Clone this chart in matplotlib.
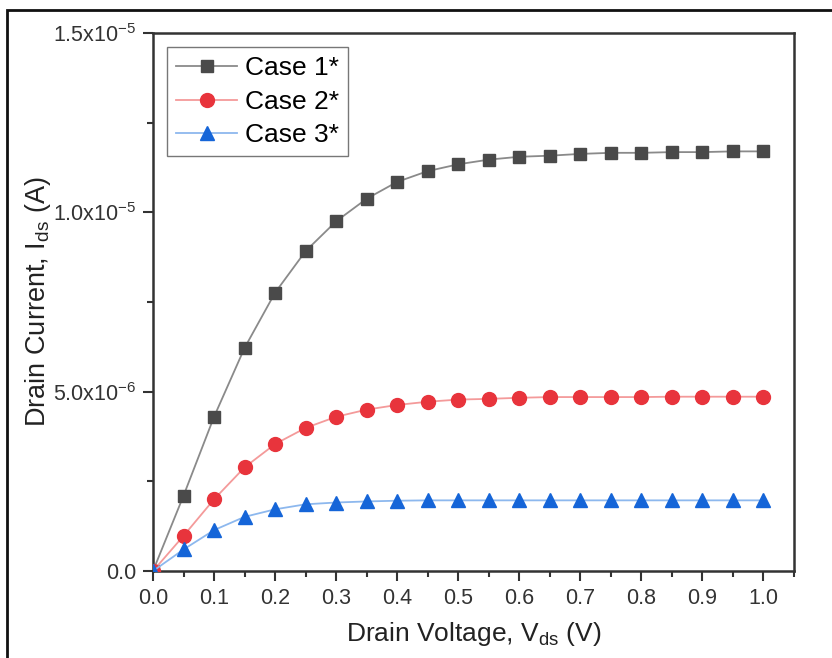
import numpy as np
import matplotlib
matplotlib.use("Agg")
import matplotlib.pyplot as plt
from matplotlib.ticker import MultipleLocator, FuncFormatter
from matplotlib.patches import Rectangle

plt.rcParams['font.family'] = ['Liberation Sans', 'DejaVu Sans']
plt.rcParams['mathtext.default'] = 'regular'

# Drain voltage (V)
vds = [0.0, 0.05, 0.1, 0.15, 0.2, 0.25, 0.3, 0.35, 0.4, 0.45, 0.5,
       0.55, 0.6, 0.65, 0.7, 0.75, 0.8, 0.85, 0.9, 0.95, 1.0]

# Drain current (A)
case1 = [0.0, 2.10e-6, 4.30e-6, 6.22e-6, 7.76e-6, 8.92e-6, 9.75e-6, 10.38e-6,
         10.85e-6, 11.15e-6, 11.34e-6, 11.47e-6, 11.55e-6, 11.58e-6, 11.63e-6,
         11.66e-6, 11.66e-6, 11.68e-6, 11.68e-6, 11.70e-6, 11.70e-6]
case2 = [0.0, 0.98e-6, 2.00e-6, 2.89e-6, 3.54e-6, 3.99e-6, 4.30e-6, 4.50e-6,
         4.63e-6, 4.72e-6, 4.78e-6, 4.80e-6, 4.83e-6, 4.85e-6, 4.85e-6,
         4.85e-6, 4.85e-6, 4.86e-6, 4.86e-6, 4.86e-6, 4.86e-6]
case3 = [0.0, 0.60e-6, 1.14e-6, 1.51e-6, 1.72e-6, 1.86e-6, 1.91e-6, 1.94e-6,
         1.96e-6, 1.97e-6, 1.97e-6, 1.97e-6, 1.97e-6, 1.97e-6, 1.97e-6,
         1.97e-6, 1.97e-6, 1.97e-6, 1.97e-6, 1.97e-6, 1.97e-6]

labels = ["Case 1*", "Case 2*", "Case 3*"]


def sci_label(v, pos):
    if v == 0:
        return "0.0"
    exp = int(np.floor(np.log10(abs(v))))
    mant = v / 10 ** exp
    return "%.1fx10$^{%d}$" % (mant, exp)


fig = plt.figure(figsize=(8.32, 6.58), dpi=100)
ax = fig.add_axes([0.1839, 0.1322, 0.7704, 0.8176])

# outer frame of the original screenshot
fig.add_artist(Rectangle((7 / 832, -0.1), 1.2, (658 - 10) / 658 + 0.1,
                         transform=fig.transFigure, fill=False,
                         edgecolor="#111111", linewidth=2))

# Plots
ax.plot(vds, case1, color="#8a8a8a", lw=1.3, marker="s", ms=9,
        mfc="#4a4a4a", mec="#4a4a4a", label=labels[0], zorder=3)
ax.plot(vds, case2, color="#f49a9a", lw=1.3, marker="o", ms=10,
        mfc="#e8343c", mec="#e8343c", label=labels[1], zorder=3)
ax.plot(vds, case3, color="#8db8ee", lw=1.3, marker="^", ms=10,
        mfc="#1565d8", mec="#1565d8", label=labels[2], zorder=3)

# Style
ax.set_xlim(0, 1.05)
ax.set_ylim(0, 1.5e-5)
ax.xaxis.set_major_locator(MultipleLocator(0.1))
ax.xaxis.set_minor_locator(MultipleLocator(0.05))
ax.yaxis.set_major_locator(MultipleLocator(5e-6))
ax.yaxis.set_minor_locator(MultipleLocator(2.5e-6))
ax.xaxis.set_major_formatter(FuncFormatter(lambda v, p: "%.1f" % v))
ax.yaxis.set_major_formatter(FuncFormatter(sci_label))

for s in ax.spines.values():
    s.set_linewidth(1.8)
    s.set_color("#333333")
ax.tick_params(which="major", direction="out", length=7, width=1.5,
               color="#333333", labelsize=15.5, labelcolor="#333333", pad=5)
ax.tick_params(which="minor", direction="out", length=4, width=1.5,
               color="#333333")
ax.tick_params(top=False, right=False, which="both")

ax.set_xlabel("Drain Voltage, V$_{ds}$ (V)", fontsize=19, color="#222222",
              labelpad=8)
ax.set_ylabel("Drain Current, I$_{ds}$ (A)", fontsize=19.5, color="#222222",
              labelpad=0)

leg = ax.legend(loc="upper left", fontsize=19, frameon=True, fancybox=False,
                edgecolor="#555555", borderpad=0.35, labelspacing=0.36,
                handlelength=2.3, handletextpad=0.3, borderaxespad=0,
                bbox_to_anchor=(0.022, 0.974))
leg.get_frame().set_linewidth(1.0)

fig.savefig("out.png", dpi=100)
